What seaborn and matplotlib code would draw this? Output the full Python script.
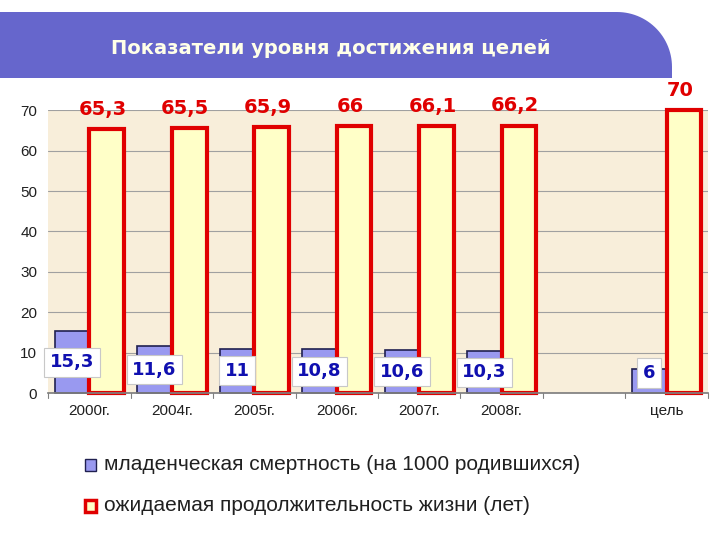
import numpy as np
import pandas as pd
import matplotlib.pyplot as plt
from matplotlib.patches import Polygon, Rectangle
import seaborn as sns

categories = ['2000г.', '2004г.', '2005г.', '2006г.', '2007г.', '2008г.', ' ', 'цель']
mortality = [15.3, 11.6, 11, 10.8, 10.6, 10.3, np.nan, 6]
life = [65.3, 65.5, 65.9, 66, 66.1, 66.2, np.nan, 70]
mort_labels = ['15,3', '11,6', '11', '10,8', '10,6', '10,3', '', '6']
life_labels = ['65,3', '65,5', '65,9', '66', '66,1', '66,2', '', '70']
series = ['младенческая смертность (на 1000 родившихся)',
          'ожидаемая продолжительность жизни (лет)']

df = pd.DataFrame({
    'cat': categories * 2,
    'value': mortality + life,
    'series': [series[0]] * len(categories) + [series[1]] * len(categories),
})

sns.set_theme(style='white')
plt.rcParams['font.family'] = ['Liberation Sans', 'DejaVu Sans']

fig = plt.figure(figsize=(7.2, 5.4), dpi=100)
ax = fig.add_axes([0.067, 0.272, 0.916, 0.524])
ax.set_facecolor('#F8EEDA')

sns.barplot(data=df, x='cat', y='value', hue='series', order=categories,
            hue_order=series, width=0.84, ax=ax, legend=False)

styles = [dict(fc='#9999F0', ec='#202050', lw=1.2),
          dict(fc='#FFFFC8', ec='#E00000', lw=3)]
for k, (cont, st) in enumerate(zip(ax.containers, styles)):
    labels = [mort_labels, life_labels][k]
    vals = [mortality, life][k]
    for p in cont.patches:
        p.set_facecolor(st['fc'])
        p.set_edgecolor(st['ec'])
        p.set_linewidth(st['lw'])
        p.set_clip_on(False)
        cx = p.get_x() + p.get_width() / 2
        i = int(round(cx))
        if not labels[i]:
            continue
        if k == 1:
            ax.text(cx - 0.05, p.get_height() + 2.5, labels[i],
                    ha='center', va='bottom', color='#E00000', fontsize=14,
                    fontweight='bold', family='DejaVu Sans', clip_on=False)
        else:
            ax.text(cx, max(vals[i] / 2, 5), labels[i],
                    ha='center', va='center', color='#1010B0', fontsize=13,
                    fontweight='bold', family='DejaVu Sans', zorder=5,
                    bbox=dict(fc='white', ec='#C8C8C8', lw=0.8, pad=4))

ax.set_ylim(0, 70)
ax.set_yticks(range(0, 71, 10))
ax.set_xlim(-0.5, len(categories) - 0.5)
ax.yaxis.grid(True, color='#A0A0A0', lw=0.8)
ax.set_axisbelow(True)
for s in ['top', 'right', 'left']:
    ax.spines[s].set_visible(False)
ax.spines['bottom'].set_color('#808080')
ax.set_xlabel('')
ax.set_ylabel('')
ax.tick_params(axis='both', labelsize=11, length=0, pad=8, labelcolor='#202020')
for x in np.arange(-0.5, len(categories), 1):
    ax.plot([x, x], [0, -1.2], color='#808080', lw=0.8, clip_on=False)

# title banner (pixel outline, rounded top-right corner)
t = np.linspace(0, np.pi / 2, 30)
r = 55
arc_x = 672 - r + r * np.cos(t)
arc_y = 540 - 12 - r + r * np.sin(t)
pts = [(0, 540 - 78), (672, 540 - 78)] + list(zip(arc_x, arc_y)) + [(0, 540 - 12)]
pts = [(x / 720, y / 540) for x, y in pts]
fig.patches.append(Polygon(pts, closed=True, transform=fig.transFigure,
                           fc='#6666CC', ec='none'))
fig.text(0.46, 0.91, 'Показатели уровня достижения целей', ha='center', va='center',
         color='#FFFFE8', fontsize=14, fontweight='bold', family='DejaVu Sans')

# legend
fig.patches.append(Rectangle((0.118, 0.128), 0.016, 0.022, transform=fig.transFigure,
                             fc='#9999F0', ec='#202050', lw=1))
fig.text(0.145, 0.14, series[0], fontsize=15, va='center', color='#202020')
fig.patches.append(Rectangle((0.118, 0.052), 0.016, 0.022, transform=fig.transFigure,
                             fc='#FFFFC8', ec='#E00000', lw=2.5))
fig.text(0.145, 0.063, series[1], fontsize=15, va='center', color='#202020')

fig.savefig('out.png', dpi=100)
